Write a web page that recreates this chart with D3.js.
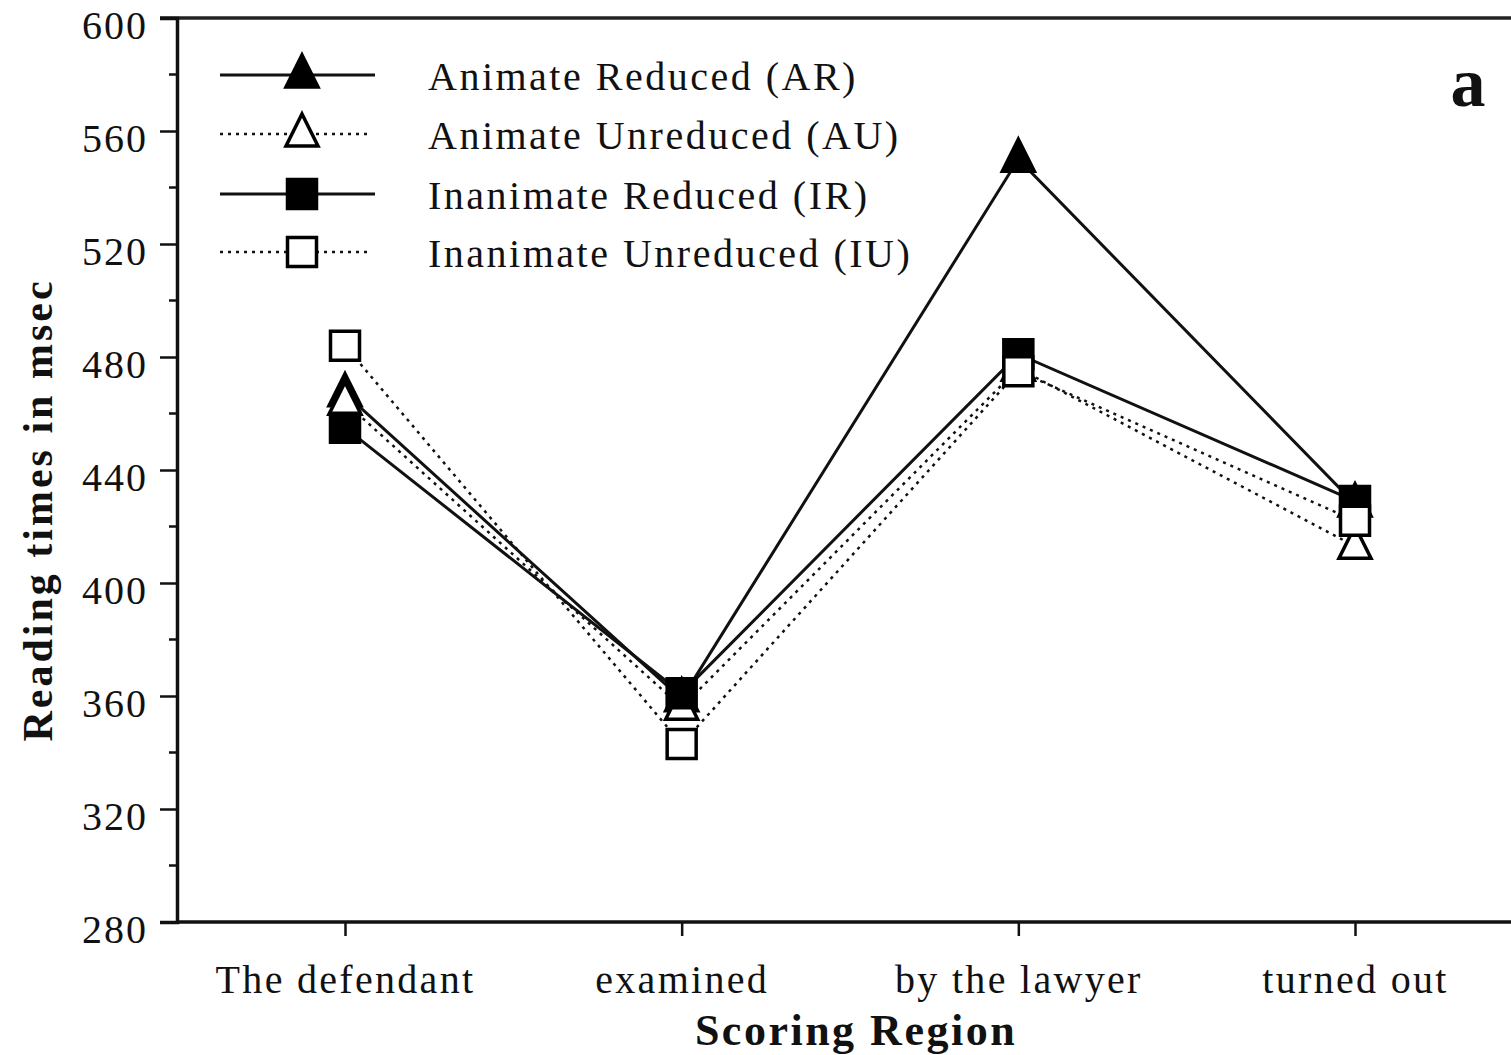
<!DOCTYPE html>
<html>
<head>
<meta charset="utf-8">
<script src="https://cdn.jsdelivr.net/npm/d3@7"></script>
<style>
  html, body { margin: 0; padding: 0; background: #fff; }
  svg { display: block; }
  text { font-family: "Liberation Serif", "Times New Roman", serif; fill: #111; }
</style>
</head>
<body>
<svg id="chart" width="1511" height="1055"></svg>
<script>
// ---- data ----
const categories = ["The defendant", "examined", "by the lawyer", "turned out"];
const seriesNames = ["Animate Reduced (AR)", "Animate Unreduced (AU)", "Inanimate Reduced (IR)", "Inanimate Unreduced (IU)"];
const valuesAR = [467, 359, 550, 428];
const valuesAU = [464, 356, 476, 413];
const valuesIR = [455, 361, 481, 429];
const valuesIU = [484, 343, 475, 422];
const yTicks = [280, 320, 360, 400, 440, 480, 520, 560, 600];
const yMinorTicks = [300, 340, 380, 420, 460, 500, 540, 580];
const xTitle = "Scoring Region";
const yTitle = "Reading times in msec";
const panelLabel = "a";

// ---- layout ----
const svg = d3.select("#chart");
const plotLeft = 177, plotTop = 18, plotBottom = 922, plotRight = 1511;

const y = d3.scaleLinear().domain([280, 600]).range([plotBottom, plotTop]);
const x = d3.scalePoint().domain(categories).range([345, 1355]);

const series = [
  { name: seriesNames[0], values: valuesAR, marker: "triangle", filled: true,  dashed: false },
  { name: seriesNames[1], values: valuesAU, marker: "triangle", filled: false, dashed: true },
  { name: seriesNames[2], values: valuesIR, marker: "square",   filled: true,  dashed: false },
  { name: seriesNames[3], values: valuesIU, marker: "square",   filled: false, dashed: true }
];

// frame: top line
svg.append("line").attr("x1", 160).attr("x2", plotRight).attr("y1", plotTop).attr("y2", plotTop)
  .attr("stroke", "#222").attr("stroke-width", 3.5);

// y axis
const yAxis = d3.axisLeft(y).tickValues(yTicks).tickSize(17).tickPadding(12).tickFormat(d3.format("d"));
const gy = svg.append("g").attr("transform", `translate(${plotLeft},0)`).call(yAxis);
gy.select(".domain").attr("stroke", "#111").attr("stroke-width", 3.5);
gy.selectAll(".tick line").attr("stroke", "#111").attr("stroke-width", 2.5);
gy.selectAll(".tick text").attr("font-size", 40).attr("fill", "#111")
  .attr("font-family", "Liberation Serif").attr("letter-spacing", "2px").attr("dy", "0.5em");
// minor ticks
svg.append("g").selectAll("line").data(yMinorTicks).join("line")
  .attr("x1", plotLeft - 8).attr("x2", plotLeft).attr("y1", d => y(d)).attr("y2", d => y(d))
  .attr("stroke", "#111").attr("stroke-width", 2.5);

// x axis
const xAxis = d3.axisBottom(x).tickSize(14).tickPadding(29);
const gx = svg.append("g").attr("transform", `translate(0,${plotBottom})`).call(xAxis);
gx.select(".domain").remove();
svg.append("line").attr("x1", plotLeft).attr("x2", plotRight).attr("y1", plotBottom).attr("y2", plotBottom)
  .attr("stroke", "#111").attr("stroke-width", 3.5);
gx.selectAll(".tick line").attr("stroke", "#111").attr("stroke-width", 2.5);
gx.selectAll(".tick text").attr("font-size", 40).attr("fill", "#111")
  .attr("font-family", "Liberation Serif").attr("letter-spacing", "2.3px");

// titles
svg.append("text").attr("x", 856).attr("y", 1045).attr("text-anchor", "middle")
  .attr("font-size", 44).attr("font-weight", "bold").attr("letter-spacing", "2.5px").text(xTitle);
svg.append("text").attr("transform", "translate(52,510) rotate(-90)").attr("text-anchor", "middle")
  .attr("font-size", 42).attr("font-weight", "bold").attr("letter-spacing", "3px").text(yTitle);
svg.append("text").attr("x", 1468).attr("y", 106).attr("text-anchor", "middle")
  .attr("font-size", 70).attr("font-weight", "bold").text(panelLabel);

// marker helpers
const triPath = "M0,-20 L16,12 L-16,12 Z";
const sqPath = "M-14.5,-14.5 L14.5,-14.5 L14.5,14.5 L-14.5,14.5 Z";
function drawMarker(g, s, cx, cy) {
  g.append("path")
    .attr("d", s.marker === "triangle" ? triPath : sqPath)
    .attr("transform", `translate(${cx},${cy})`)
    .attr("fill", s.filled ? "#000" : "#fff")
    .attr("stroke", "#000").attr("stroke-width", 3.5);
}

// lines
const line = d3.line().x((d, i) => x(categories[i])).y(d => y(d));
series.forEach(s => {
  svg.append("path").datum(s.values).attr("d", line)
    .attr("fill", "none").attr("stroke", "#111")
    .attr("stroke-width", s.dashed ? 2.5 : 3)
    .attr("stroke-dasharray", s.dashed ? "3,5" : null);
});
// markers
series.forEach(s => {
  const g = svg.append("g");
  s.values.forEach((v, i) => drawMarker(g, s, x(categories[i]), y(v)));
});

// legend
const legendRows = [75, 134, 194, 252];
series.forEach((s, i) => {
  const ly = legendRows[i];
  svg.append("line").attr("x1", 220).attr("x2", s.dashed ? 368 : 375).attr("y1", ly).attr("y2", ly)
    .attr("stroke", "#111").attr("stroke-width", s.dashed ? 2.5 : 3)
    .attr("stroke-dasharray", s.dashed ? "3,5" : null);
  drawMarker(svg, s, 302, ly);
  svg.append("text").attr("x", 428).attr("y", ly + 15).attr("font-size", 40)
    .attr("letter-spacing", "2.5px").text(s.name);
});
</script>
</body>
</html>
